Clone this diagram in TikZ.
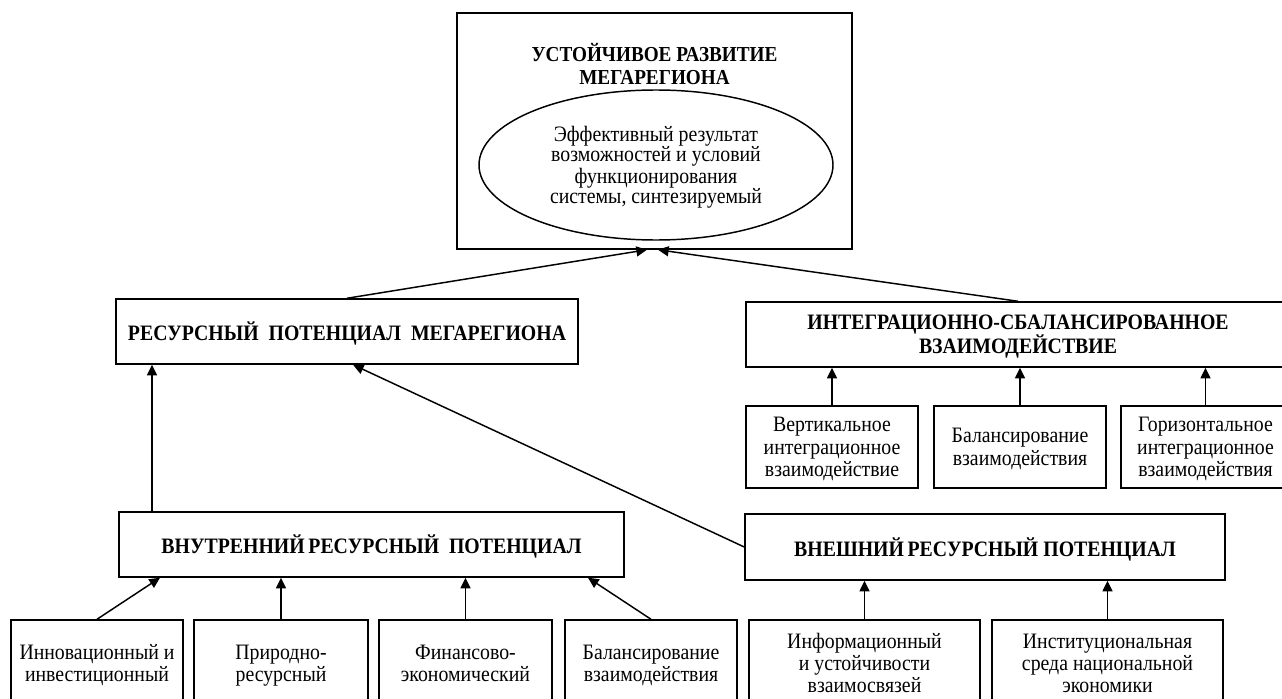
\documentclass[tikz,border=0pt]{standalone}
\usepackage{fontspec}
\setmainfont{Liberation Serif}[FakeStretch=0.9]
\usetikzlibrary{arrows.meta,calc,shapes.geometric}
\tikzset{
  box/.style={draw, line width=1.1pt, rectangle, inner sep=0pt, align=center, text depth=0pt,
    font=\fontsize{16.5}{16.5}\selectfont},
  sbox/.style={box, font=\fontsize{16.5}{17}\selectfont},
  tbox/.style={box, font=\fontsize{16.5}{18}\selectfont\bfseries},
  arr/.style={line width=1.1pt, -{Triangle[length=8pt,width=7.5pt]}},
}
\begin{document}
\begin{tikzpicture}[x=0.75pt,y=-0.75pt]
\useasboundingbox (0,0) rectangle (1282,699);
\clip (0,0) rectangle (1282,699);
% top
\node[box, minimum width=296.25pt, minimum height=177pt] (top) at (654.5,131) {};
\node[font=\fontsize{16}{17.5}\selectfont\bfseries, align=center, text depth=0pt, inner sep=0pt] (title) at (654.5,64) {УСТОЙЧИВОЕ РАЗВИТИЕ\\МЕГАРЕГИОНА};
\node[draw, line width=1.1pt, ellipse, inner sep=0pt, minimum width=265.5pt, minimum height=112.5pt, align=center,
  text depth=0pt, font=\fontsize{16.5}{15}\selectfont] (ell) at (656,165) {Эффективный результат\\возможностей и условий\\функционирования\\системы, синтезируемый};
% second level
\node[tbox, minimum width=346.5pt, minimum height=48.75pt] (res) at (347,331.5) {РЕСУРСНЫЙ\ \ ПОТЕНЦИАЛ\ \ МЕГАРЕГИОНА};
\node[tbox, minimum width=408pt, minimum height=48.75pt] (int) at (1018,334.5) {ИНТЕГРАЦИОННО-СБАЛАНСИРОВАННОЕ\\ВЗАИМОДЕЙСТВИЕ};
% small boxes right
\node[sbox, minimum width=129pt, minimum height=61.5pt] (s1) at (832,447) {Вертикальное\\интеграционное\\взаимодействие};
\node[sbox, minimum width=129pt, minimum height=61.5pt] (s2) at (1020,447) {Балансирование\\взаимодействия};
\node[sbox, minimum width=126.75pt, minimum height=61.5pt] (s3) at (1205.5,447) {Горизонтальное\\интеграционное\\взаимодействия};
% third level
\node[tbox, minimum width=378.75pt, minimum height=48.75pt] (vnut) at (371.5,544.5) {ВНУТРЕННИЙ\,РЕСУРСНЫЙ\ \ ПОТЕНЦИАЛ};
\node[tbox, minimum width=360pt, minimum height=49.5pt] (vnesh) at (985,547) {ВНЕШНИЙ\,РЕСУРСНЫЙ ПОТЕНЦИАЛ};
% bottom boxes
\node[box, minimum width=129pt, minimum height=64.5pt] (A) at (97,663) {Инновационный и\\инвестиционный};
\node[box, minimum width=130.5pt, minimum height=64.5pt] (B) at (281,663) {Природно-\\ресурсный};
\node[box, minimum width=129.75pt, minimum height=64.5pt] (C) at (465.5,663) {Финансово-\\экономический};
\node[box, minimum width=129pt, minimum height=64.5pt] (D) at (651,663) {Балансирование\\взаимодействия};
\node[box, minimum width=173.25pt, minimum height=64.5pt] (E) at (864.5,663) {Информационный\\и устойчивости\\взаимосвязей};
\node[box, minimum width=173.25pt, minimum height=64.5pt] (F) at (1107.5,663) {Институциональная\\среда национальной\\экономики};
% connectors
\draw[arr] (res.north) -- (647,0 |- top.south);
\draw[arr] (int.north) -- (658,0 |- top.south);
\draw[arr] (152,0 |- vnut.north) -- (152,0 |- res.south);
\draw[arr] (vnesh.west) -- (353,0 |- res.south);
\draw[arr] (s1.north) -- (s1.north |- int.south);
\draw[arr] (s2.north) -- (s2.north |- int.south);
\draw[arr] (s3.north) -- (s3.north |- int.south);
\draw[arr] (A.north) -- (160,0 |- vnut.south);
\draw[arr] (B.north) -- (B.north |- vnut.south);
\draw[arr] (C.north) -- (C.north |- vnut.south);
\draw[arr] (D.north) -- (588,0 |- vnut.south);
\draw[arr] (E.north) -- (E.north |- vnesh.south);
\draw[arr] (F.north) -- (F.north |- vnesh.south);
\end{tikzpicture}
\end{document}
